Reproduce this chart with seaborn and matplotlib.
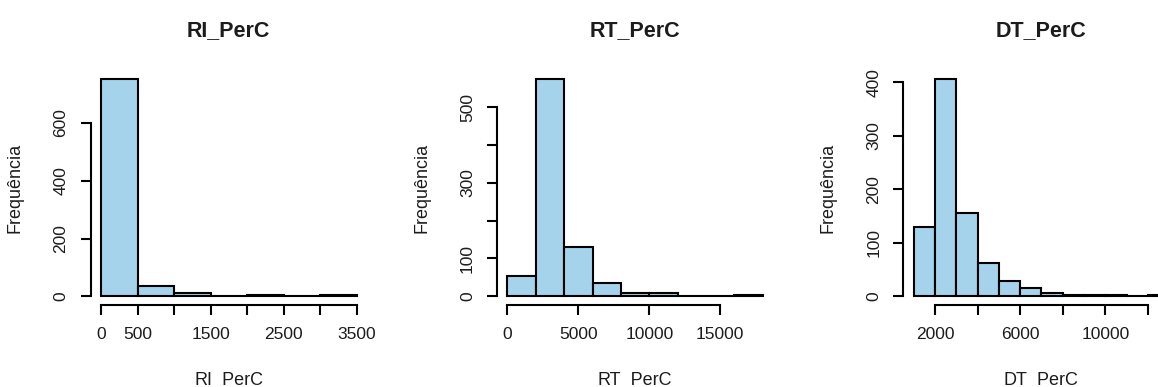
import numpy as np
import pandas as pd
import matplotlib
matplotlib.use("Agg")
import matplotlib.pyplot as plt
import seaborn as sns

# Bin edges and counts for each variable
ri_edges = [0, 500, 1000, 1500, 2000, 2500, 3000, 3500]
ri_counts = [752, 35, 11, 0, 4, 0, 4]

rt_edges = [0, 2000, 4000, 6000, 8000, 10000, 12000, 14000, 16000, 18000]
rt_counts = [53, 574, 131, 36, 9, 10, 0, 0, 4]

dt_edges = [1000, 2000, 3000, 4000, 5000, 6000, 7000, 8000, 9000, 10000,
            11000, 12000, 13000]
dt_counts = [130, 406, 155, 62, 28, 15, 6, 3, 3, 3, 0, 3]

titles = ["RI_PerC", "RT_PerC", "DT_PerC"]
y_label = "Frequência"

ri_xticks = [0, 500, 1000, 1500, 2000, 2500, 3000, 3500]
ri_xlabels = ["0", "500", "", "1500", "", "2500", "", "3500"]
ri_yticks = [0, 200, 400, 600]
ri_ylabels = ["0", "200", "400", "600"]

rt_xticks = [0, 5000, 10000, 15000]
rt_xlabels = ["0", "5000", "10000", "15000"]
rt_yticks = [0, 100, 200, 300, 400, 500]
rt_ylabels = ["0", "100", "", "300", "", "500"]

dt_xticks = [2000, 4000, 6000, 8000, 10000, 12000]
dt_xlabels = ["2000", "", "6000", "", "10000", ""]
dt_yticks = [0, 100, 200, 300, 400]
dt_ylabels = ["0", "100", "200", "300", "400"]

sns.set_style("ticks")
plt.rcParams["font.family"] = ["Liberation Sans", "DejaVu Sans"]

W, H = 1158, 387
fig = plt.figure(figsize=(W / 100, H / 100), dpi=100)
fig.patch.set_facecolor("white")

fill = "#A6D3EC"
ink = "#1c1c1c"

panels = [
    (ri_edges, ri_counts, ri_xticks, ri_xlabels, ri_yticks, ri_ylabels, 90.8),
    (rt_edges, rt_counts, rt_xticks, rt_xlabels, rt_yticks, rt_ylabels, 497.1),
    (dt_edges, dt_counts, dt_xticks, dt_xlabels, dt_yticks, dt_ylabels, 903.4),
]

ax_w_px, ax_top, ax_bot = 276.0, 70.3, 305.0

for title, (edges, counts, xt, xl, yt, yl, left_px) in zip(titles, panels):
    ax = fig.add_axes([left_px / W, (H - ax_bot) / H,
                       ax_w_px / W, (ax_bot - ax_top) / H])
    e = np.asarray(edges, dtype=float)
    binned = pd.DataFrame({
        "value": (e[:-1] + e[1:]) / 2,
        "count": np.asarray(counts, dtype=float),
    })
    sns.histplot(data=binned, x="value", weights="count",
                 bins=[float(v) for v in edges], ax=ax,
                 color=fill, alpha=1.0, edgecolor="black", linewidth=1.5)

    # R-style 4% padding around the data range
    xr = e[-1] - e[0]
    ymax = max(counts)
    ax.set_xlim(e[0] - 0.04 * xr, e[-1] + 0.04 * xr)
    ax.set_ylim(-0.04 * ymax, 1.04 * ymax)

    for s in ("top", "right"):
        ax.spines[s].set_visible(False)
    for s in ("left", "bottom"):
        ax.spines[s].set_linewidth(1.5)
        ax.spines[s].set_color("black")
    ax.spines["left"].set_bounds(yt[0], yt[-1])
    ax.spines["bottom"].set_bounds(xt[0], xt[-1])

    ax.set_xticks(xt)
    ax.set_xticklabels(xl)
    ax.set_yticks(yt)
    ax.set_yticklabels(yl, rotation=90, va="center")
    ax.tick_params(axis="both", direction="out", length=7, width=1.5,
                   color="black", labelsize=12.5, labelcolor=ink, pad=9)

    ax.set_xlabel(title, fontsize=13, color=ink)
    ax.xaxis.set_label_coords(0.5, (ax_bot - 372.0) / (ax_bot - ax_top))
    ax.set_ylabel(y_label, fontsize=13, color=ink)
    ax.yaxis.set_label_coords((24.0 - 90.8) / ax_w_px, 0.5)

    ax.text(0.5, (ax_bot - 36.0) / (ax_bot - ax_top), title,
            transform=ax.transAxes, ha="center", va="baseline",
            fontsize=15.5, fontweight="bold", color=ink)
    ax.set_facecolor("white")

fig.savefig("out.png", dpi=100, facecolor="white")
